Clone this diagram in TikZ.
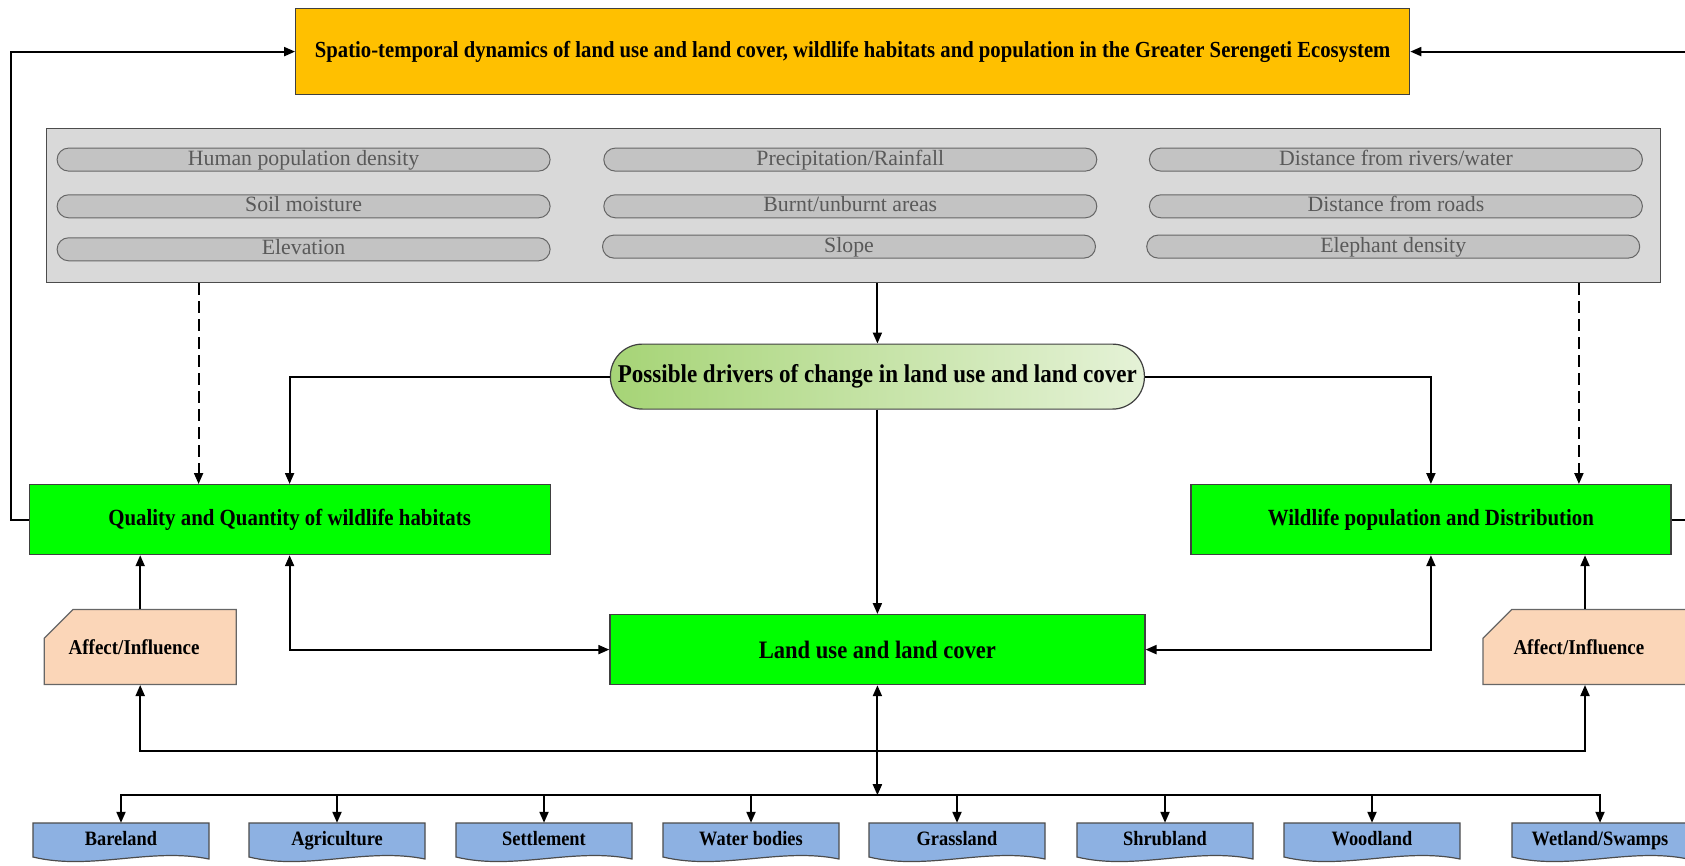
\documentclass[tikz,border=0pt]{standalone}
\usepackage{fontspec}
\setmainfont{Liberation Serif}
\newfontfamily\condserif[FakeStretch=0.9]{Liberation Serif}
\usetikzlibrary{positioning,shapes.misc,arrows.meta}

\definecolor{titlegold}{RGB}{255,192,0}
\definecolor{panelgray}{RGB}{217,217,217}
\definecolor{pillgray}{RGB}{195,195,195}
\definecolor{pilltext}{RGB}{89,89,89}
\definecolor{boxgreen}{RGB}{0,255,0}
\definecolor{peach}{RGB}{251,214,184}
\definecolor{lcblue}{RGB}{141,177,226}
\definecolor{drvleft}{RGB}{166,212,118}
\definecolor{drvright}{RGB}{229,242,215}

\newcommand{\bsize}[1]{\condserif\bfseries\fontsize{#1}{#1}\selectfont}

\begin{document}
\begin{tikzpicture}[x=1pt, y=-1pt,
        >={Triangle[length=11pt,width=9pt]},
        TITLE/.style={rectangle, draw=black!75, fill=titlegold, line width=1.2pt, minimum width=1114pt, minimum height=86pt, font=\bsize{23}},
        PANEL/.style={rectangle, draw=black!70, fill=panelgray, line width=1.2pt, minimum width=1614pt, minimum height=154pt},
        FACTOR/.style={rectangle, rounded corners=11.5pt, draw=black!60, fill=pillgray, line width=1pt, minimum width=493pt, minimum height=23pt, inner sep=0pt, text height=15pt, text depth=4pt, text=pilltext, font=\fontsize{21.8}{22}\selectfont},
        DRIVER/.style={rectangle, rounded corners=32pt, draw=black!75, left color=drvleft, right color=drvright, line width=1.2pt, minimum width=534pt, minimum height=65pt, font=\bsize{25.6}},
        HABITAT/.style={rectangle, draw=black!75, fill=boxgreen, line width=1.2pt, minimum width=521pt, minimum height=70pt, font=\bsize{23.2}},
        AFFECT/.style={chamfered rectangle, chamfered rectangle corners=north west, chamfered rectangle xsep=16pt, chamfered rectangle ysep=18pt, draw=black!60, fill=peach, line width=1.2pt, minimum width=192pt, minimum height=75pt, text width=143pt, align=left, font=\bsize{21.1}},
        LCSHAPE/.style={draw=black!70, fill=lcblue, line width=1.2pt},
        LC/.style={rectangle, minimum width=176pt, minimum height=37pt, inner sep=0pt, text height=14pt, text depth=6pt, font=\bsize{20.4}},
        link/.style={->, line width=2pt},
    ]
    \useasboundingbox (0,0) rectangle (1685,865);

    \node[TITLE] (title) at (852.7,51.6) {Spatio-temporal dynamics of land use and land cover, wildlife habitats and population in the Greater Serengeti Ecosystem};

    % drivers panel
    \node[PANEL] (panel) at (853.2,205.8) {};
    \node[FACTOR] (hpd)   at (303.6,159.6)  {Human population density};
    \node[FACTOR] (soil)  at (303.6,206.3)  {Soil moisture};
    \node[FACTOR] (elev)  at (303.6,249.3)  {Elevation};
    \node[FACTOR] (rain)  [right=52.7pt of hpd]  {Precipitation/Rainfall};
    \node[FACTOR] (burnt) [right=52.7pt of soil] {Burnt/unburnt areas};
    \node[FACTOR] (slope) at (849,246.6)    {Slope};
    \node[FACTOR] (river) [right=51.6pt of rain]  {Distance from rivers/water};
    \node[FACTOR] (road)  [right=51.6pt of burnt] {Distance from roads};
    \node[FACTOR] (eleph) at (1393.2,246.6) {Elephant density};

    \node[DRIVER] (drivers) at (877.4,376.6) {Possible drivers of change in land use and land cover};

    \node[HABITAT] (habitat) at (289.6,519.6) {Quality and Quantity of wildlife habitats};
    \node[HABITAT, minimum width=480pt] (wildlife) at (1430.9,519.6) {Wildlife population and Distribution};
    \node[HABITAT, minimum width=535pt, font=\bsize{25.1}] (lulc) at (877.4,649.6) {Land use and land cover};

    \node[AFFECT] (affL) at (140.2,646.9) {Affect/Influence};
    \node[AFFECT, minimum width=204pt] (affR) at (1585,646.9) {Affect/Influence};

    \coordinate (hub)   at ([yshift=-66pt]lulc.south);
    \coordinate (split) at ([yshift=-110pt]lulc.south);
    \coordinate (lloop) at ([xshift=-18pt]habitat.west);
    \coordinate (rloop) at ([xshift=25pt]wildlife.east);

    % land cover classes
    \foreach \nm/\lbl/\xx in {bare/Bareland/121, agri/Agriculture/337, settle/Settlement/544, water/Water bodies/751, grass/Grassland/957, shrub/Shrubland/1165, wood/Woodland/1372, wet/{Wetland/Swamps}/1600}
    {
        \filldraw[LCSHAPE] ({\xx-88},823) -- ({\xx+88},823) -- ({\xx+88},859)
            .. controls ({\xx+30},847) and ({\xx-30},871) .. ({\xx-88},857) -- cycle;
        \node[LC] (\nm) at (\xx,841.5) {\lbl};
        \draw[link] (split) -| (\nm.north);
    }

    % connectors
    \draw[link] (panel.south -| drivers.north) -- (drivers.north);
    \draw[link, dash pattern=on 12pt off 6pt] ([xshift=-91pt]habitat.north |- panel.south) -- ([xshift=-91pt]habitat.north);
    \draw[link, dash pattern=on 12pt off 6pt] ([xshift=148pt]wildlife.north |- panel.south) -- ([xshift=148pt]wildlife.north);
    \draw[link] (drivers.west) -| (habitat.north);
    \draw[link] (drivers.east) -| (wildlife.north);
    \draw[link] (drivers.south) -- (lulc.north);
    \draw[link, <->] (habitat.south) |- (lulc.west);
    \draw[link, <->] (wildlife.south) |- (lulc.east);
    \draw[link] (affL.north) -- (affL.north |- habitat.south);
    \draw[link] (affR.north) -- (affR.north |- wildlife.south);
    \draw[link, <->] (affL.south) |- (hub) -| (affR.south);
    \draw[link, <->] (lulc.south) -- (split);
    \draw[link] (habitat.west) -- (lloop) |- (title.west);
    \draw[link] (wildlife.east) -- (rloop) |- (title.east);

\end{tikzpicture}
\end{document}
